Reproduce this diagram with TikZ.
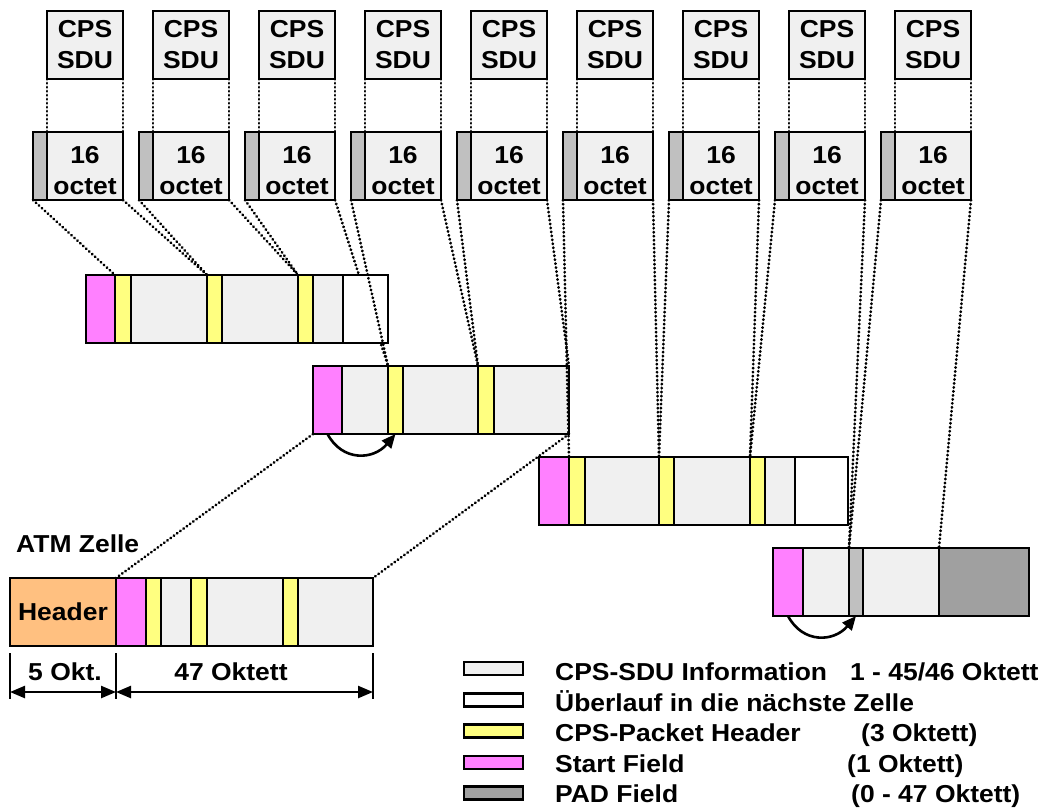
\documentclass[tikz,border=0pt]{standalone}
\usepackage{fontspec}
\setmainfont{Liberation Sans}[FakeStretch=1.08]
\usetikzlibrary{arrows.meta}
\definecolor{sdufill}{HTML}{F0F0F0}
\definecolor{startf}{HTML}{FF80FF}
\definecolor{pkthdr}{HTML}{FFFF80}
\definecolor{atmhdr}{HTML}{FFC080}
\definecolor{tabgray}{HTML}{C0C0C0}
\definecolor{padgray}{HTML}{A0A0A0}
\pgfdeclarelayer{bg}
\pgfsetlayers{bg,main}
\tikzset{
  seg/.style={draw=black, line width=2.6pt, inner sep=0pt, outer sep=0pt,
              minimum height=68pt, anchor=north west},
  lbl/.style={font=\fontsize{24.5}{31}\selectfont\bfseries, inner sep=0pt, align=center},
  legtxt/.style={lbl, anchor=base west},
  legbox/.style={draw=black, line width=2.6pt, inner sep=0pt,
                 minimum width=59pt, minimum height=13pt},
  dots/.style={line width=2.8pt, line cap=round, dash pattern=on 0.4pt off 3.6pt},
  hop/.style={line width=2.6pt, -{Triangle[length=14pt,width=12pt]}},
  tick/.style={line width=2.4pt},
  dimarrow/.style={line width=2.4pt, {Triangle[length=15pt,width=12pt]}-{Triangle[length=15pt,width=12pt]}}
}
% one cell: name prefix, top edge, list of left/right/fill
\newcommand\pktcell[3]{%
  \foreach \xa/\xb/\fc [count=\k] in {#3}{%
    \pgfmathsetmacro\w{\xb-\xa}%
    \node[seg, fill=\fc, minimum width=\w pt] (#1-\k) at (\xa,#2) {};%
  }}
\begin{document}
\begin{tikzpicture}[x=1pt,y=-1pt]
\useasboundingbox (0,0) rectangle (1045,807);

% CPS-SDUs and their 16-octet packets
\foreach \i in {0,...,8}{
  \pgfmathsetmacro\x{47+106*\i}
  \node[seg, fill=sdufill, minimum width=76pt, lbl] (sdu\i) at (\x,11) {CPS\\SDU};
  \node[seg, fill=tabgray, minimum width=14pt] (tab\i) at (\x-14,132) {};
  \node[seg, fill=sdufill, minimum width=76pt] (oct\i) at (\x,132) {};
  \node[lbl] (octtxt\i) at ([yshift=-5pt]oct\i.center) {16\\octet};
}

% payloads
\pktcell{c1}{275}{86/115/startf, 115/131/pkthdr, 131/207/sdufill, 207/222/pkthdr,
  222/298/sdufill, 298/313/pkthdr, 313/343/sdufill, 343/388/white}
\pktcell{c2}{366}{313/342/startf, 342/388/sdufill, 388/403/pkthdr, 403/478/sdufill,
  478/494/pkthdr, 494/569/sdufill}
\pktcell{c3}{457}{539/569/startf, 569/585/pkthdr, 585/659/sdufill, 659/674/pkthdr,
  674/750/sdufill, 750/765/pkthdr, 765/795/sdufill, 795/848/white}
\pktcell{c4}{548}{773/803/startf, 803/849/sdufill, 849/863/tabgray, 863/939/sdufill,
  939/1029/padgray}

% ATM cell
\pktcell{atm}{578}{10/116/atmhdr, 116/146/startf, 146/161/pkthdr, 161/191/sdufill,
  191/207/pkthdr, 207/283/sdufill, 283/298/pkthdr, 298/373/sdufill}
\node[lbl] (hdrtxt) at (atm-1.center) {Header};
\node[lbl, anchor=base west] (atmlbl) at (16,552) {ATM Zelle};

% mapping lines behind the cells
\begin{pgfonlayer}{bg}
  \foreach \i in {0,...,8}{
    \draw[dots] (sdu\i.south west) -- (oct\i.north west);
    \draw[dots] (sdu\i.south east) -- (oct\i.north east);
  }
  \draw[dots] (tab0.south west) -- (c1-2.north west);
  \draw[dots] (oct0.south east) -- (c1-4.north west);
  \draw[dots] (tab1.south west) -- (c1-4.north west);
  \draw[dots] (oct1.south east) -- (c1-6.north west);
  \draw[dots] (tab2.south west) -- (c1-6.north west);
  \draw[dots] (oct2.south east) -- (c2-3.north west);
  \draw[dots] (oct3.south east) -- (c2-5.north west);
  \draw[dots] (tab4.south west) -- (c2-5.north west);
  \draw[dots] (oct4.south east) -- (c2-6.north east);
  \draw[dots] (oct5.south east) -- (c3-4.north west);
  \draw[dots] (tab6.south west) -- (c3-4.north west);
  \draw[dots] (oct6.south east) -- (c3-6.north west);
  \draw[dots] (tab7.south west) -- (c3-6.north west);
  \draw[dots] (oct7.south east) -- (c4-3.north west);
  \draw[dots] (tab8.south west) -- (c4-3.north west);
  \draw[dots] (oct8.south east) -- (c4-5.north west);
  \draw[dots] (c2-1.south west) -- (atm-2.north west);
  \draw[dots] (c2-6.south east) -- (atm-8.north east);
\end{pgfonlayer}
% mapping lines crossing over a cell
\draw[dots] (tab3.south west) -- (c2-3.north west);
\draw[dots] (tab5.south west) -- (c3-2.north west);

% start field pointers
\draw[hop] (c2-1.south) .. controls +(15,28) and +(-22,26) .. (c2-3.south);
\draw[hop] (c4-1.south) .. controls +(15,28) and +(-22,26) .. (c4-3.south);

% octet counts of the ATM cell
\draw[tick] ([yshift=-7pt]atm-1.south west) -- ([yshift=-53pt]atm-1.south west);
\draw[tick] ([yshift=-7pt]atm-2.south west) -- ([yshift=-53pt]atm-2.south west);
\draw[tick] ([yshift=-7pt]atm-8.south east) -- ([yshift=-53pt]atm-8.south east);
\draw[dimarrow] ([yshift=-46pt]atm-1.south west) -- ([yshift=-46pt]atm-2.south west);
\draw[dimarrow] ([yshift=-46pt]atm-2.south west) -- ([yshift=-46pt]atm-8.south east);
\node[lbl, anchor=base] (d5) at (65,680) {5 Okt.};
\node[lbl, anchor=base] (d47) at (231,680) {47 Oktett};

% legend
\node[legbox, fill=sdufill] (lg1) at (493.5,668.5) {};
\node[legbox, fill=white]   (lg2) at (493.5,700) {};
\node[legbox, fill=pkthdr]  (lg3) at (493.5,731) {};
\node[legbox, fill=startf]  (lg4) at (493.5,762.5) {};
\node[legbox, fill=padgray] (lg5) at (493.5,793) {};
\node[legtxt] (lt1) at (555,680) {CPS-SDU Information};
\node[legtxt] (lt2) at (555,711) {Überlauf in die nächste Zelle};
\node[legtxt] (lt3) at (555,741) {CPS-Packet Header};
\node[legtxt] (lt4) at (555,772) {Start Field};
\node[legtxt] (lt5) at (555,802) {PAD Field};
\node[legtxt] (ls1) at (850,680) {1 - 45/46 Oktett};
\node[legtxt] (ls3) at (861,741) {(3 Oktett)};
\node[legtxt] (ls4) at (847,772) {(1 Oktett)};
\node[legtxt] (ls5) at (851,802) {(0 - 47 Oktett)};
\end{tikzpicture}
\end{document}
